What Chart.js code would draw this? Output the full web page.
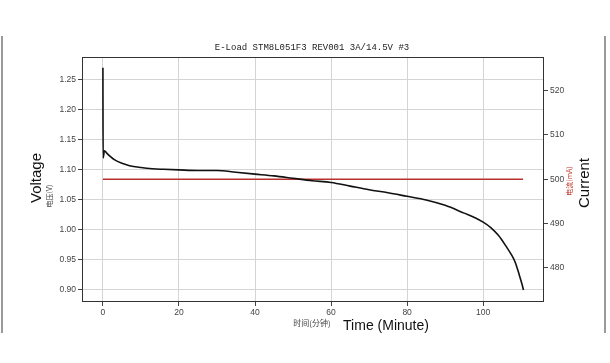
<!DOCTYPE html>
<html>
<head>
<meta charset="utf-8">
<script src="https://cdn.jsdelivr.net/npm/chart.js@4"></script>
<style>
  html, body { margin: 0; padding: 0; background: #fff; }
  #wrap { width: 610px; height: 363px; }
</style>
</head>
<body>
<div id="wrap"><canvas id="c" width="610" height="363"></canvas></div>
<script>
// 放电时间 (分钟) 和电压 (V)
const timeMin = [0, 0.05, 0.4, 1, 2, 3, 5, 7, 10, 13, 16, 20, 25, 30, 35, 40, 45, 50, 55, 60,
    65, 70, 75, 80, 85, 90, 95, 98, 100, 102, 104, 106, 107.5, 108.5, 109.5, 110.2, 110.6];
const voltage = [1.27, 1.12, 1.132, 1.128, 1.122, 1.117, 1.111, 1.107, 1.104, 1.102, 1.101, 1.100, 1.099, 1.099, 1.096, 1.093, 1.090, 1.086, 1.082, 1.079,
    1.073, 1.067, 1.062, 1.056, 1.050, 1.041, 1.028, 1.020, 1.013, 1.004, 0.991, 0.973, 0.958, 0.945, 0.925, 0.910, 0.900];

// 电流 (mA)
const currentTime = [0, 110.5];
const currentMA = [500, 500];

// 刻度
const xTicks = [0, 20, 40, 60, 80, 100];
const vTicks = [0.90, 0.95, 1.00, 1.05, 1.10, 1.15, 1.20, 1.25];
const iTicks = [480, 490, 500, 510, 520];

const tickFont = { family: 'Liberation Sans', size: 8.5 };

// 标题和轴标签
const decorations = {
    id: 'decorations',
    afterDraw(chart) {
        const ctx = chart.ctx;
        const a = chart.chartArea;
        ctx.save();
        // 外框
        ctx.strokeStyle = '#9a9a9a';
        ctx.lineWidth = 2;
        ctx.beginPath();
        ctx.moveTo(2, 36); ctx.lineTo(2, 333);
        ctx.moveTo(605, 36); ctx.lineTo(605, 333);
        ctx.stroke();
        // 图框
        ctx.strokeStyle = '#333';
        ctx.lineWidth = 1;
        ctx.strokeRect(a.left + 0.5, a.top + 0.5, a.right - a.left - 1, a.bottom - a.top - 1);

        ctx.fillStyle = '#222';
        ctx.textAlign = 'center';
        ctx.textBaseline = 'middle';
        ctx.font = '9px "Liberation Mono"';
        ctx.fillText('E-Load STM8L051F3 REV001 3A/14.5V #3', 312, 48);

        ctx.font = '8px "Noto Sans CJK SC"';
        ctx.fillStyle = '#444';
        ctx.fillText('时间(分钟)', 312, 323);
        ctx.font = '14px "Liberation Sans"';
        ctx.fillStyle = '#111';
        ctx.fillText('Time (Minute)', 386, 326);

        const vert = (text, x, y, font, color) => {
            ctx.save();
            ctx.translate(x, y);
            ctx.rotate(-Math.PI / 2);
            ctx.font = font;
            ctx.fillStyle = color;
            ctx.fillText(text, 0, 0);
            ctx.restore();
        };
        vert('Voltage', 37, 178, '15px "Liberation Sans"', '#111');
        vert('电压(V)', 49, 196, '7px "Noto Sans CJK SC"', '#444');
        vert('电流(mA)', 569, 181, '7px "Noto Sans CJK SC"', '#c0392b');
        vert('Current', 585, 183, '15px "Liberation Sans"', '#111');
        ctx.restore();
    }
};

new Chart(document.getElementById('c'), {
    type: 'line',
    data: {
        datasets: [{
            label: 'Voltage',
            data: timeMin.map((t, i) => ({ x: t, y: voltage[i] })),
            borderColor: '#111',
            borderWidth: 1.6,
            pointRadius: 0,
            cubicInterpolationMode: 'monotone',
            yAxisID: 'y'
        }, {
            label: 'Current',
            data: currentTime.map((t, i) => ({ x: t, y: currentMA[i] })),
            borderColor: '#b8312f',
            borderWidth: 1.4,
            pointRadius: 0,
            yAxisID: 'y2'
        }]
    },
    options: {
        responsive: false,
        animation: false,
        layout: { padding: { top: 57, left: 0, right: 0, bottom: 0 } },
        plugins: {
            legend: { display: false },
            tooltip: { enabled: false }
        },
        scales: {
            x: {
                type: 'linear',
                min: -5.5,
                max: 116,
                afterBuildTicks: s => { s.ticks = xTicks.map(v => ({ value: v })); },
                afterFit: s => { s.height = 61; },
                grid: { color: '#d4d4d4', tickColor: '#444', tickLength: 4 },
                border: { display: false },
                ticks: { font: tickFont, color: '#444', padding: 2, maxRotation: 0 }
            },
            y: {
                position: 'left',
                min: 0.88,
                max: 1.288,
                afterBuildTicks: s => { s.ticks = vTicks.map(v => ({ value: v })); },
                afterFit: s => { s.width = 82; },
                grid: { color: '#d4d4d4', tickColor: '#444', tickLength: 4 },
                border: { display: false },
                ticks: { font: tickFont, color: '#444', padding: 2, callback: v => v.toFixed(2) }
            },
            y2: {
                position: 'right',
                min: 472.3,
                max: 527.6,
                afterBuildTicks: s => { s.ticks = iTicks.map(v => ({ value: v })); },
                afterFit: s => { s.width = 66; },
                grid: { drawOnChartArea: false, tickColor: '#444', tickLength: 4 },
                border: { display: false },
                ticks: { font: tickFont, color: '#444', padding: 2 }
            }
        }
    },
    plugins: [decorations]
});
</script>
</body>
</html>
